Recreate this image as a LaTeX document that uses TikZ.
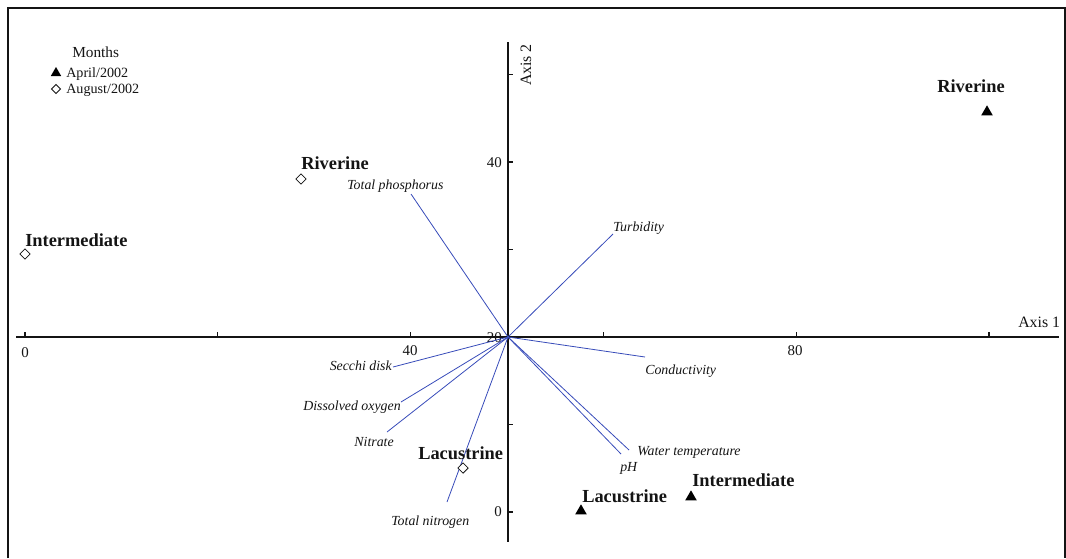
\documentclass[tikz,border=0pt]{standalone}
\usepackage{fontspec}
\setmainfont{Liberation Serif}
\usepackage{tikz}
\usetikzlibrary{shapes.geometric, positioning}
\usepackage{xcolor}
\definecolor{VectorBlue}{RGB}{55,75,185}
\definecolor{InkBlack}{RGB}{20,20,20}
\tikzset{%
  frame_line/.style={%
    draw=InkBlack,%
    line width=1.5pt,%
  },
  axis_line/.style={%
    draw=InkBlack,%
    line width=1.6pt,%
  },
  tick_line/.style={%
    draw=InkBlack,%
    line width=0.9pt,%
  },
  vector/.style={%
    draw=VectorBlue,%
    line width=0.6pt,%
  },
  var_label/.style={%
    inner sep=0pt,%
    font={\fontsize{10.4}{12}\selectfont\itshape},%
    text=InkBlack,%
  },
  site_label/.style={%
    inner sep=0pt,%
    font={\fontsize{13.8}{16}\selectfont\bfseries},%
    text=InkBlack,%
  },
  tick_label/.style={%
    inner sep=0pt,%
    font={\fontsize{11.2}{13}\selectfont},%
    text=InkBlack,%
  },
  legend_text/.style={%
    inner sep=0pt,%
    font={\fontsize{10.6}{12}\selectfont},%
    text=InkBlack,%
  },
  april_mark/.style={%
    regular polygon,%
    regular polygon sides=3,%
    fill=black,%
    inner sep=0pt,%
    minimum size=10pt,%
  },
  august_mark/.style={%
    diamond,%
    draw=InkBlack,%
    line width=0.6pt,%
    fill=white,%
    inner sep=0pt,%
    minimum size=8pt,%
  },
}
\begin{document}
\begin{tikzpicture}[x=0.75pt, y=-0.75pt]
    \useasboundingbox (0,0) rectangle (1066,558);

    % frame, open at the bottom
    \draw [frame_line] (8,558) -- (8,8) -- (1065,8) -- (1065,558);

    % axes
    \coordinate (O) at (508,337);
    \coordinate (ax1_start) at (16,337);
    \coordinate (ax1_end) at (1059,337);
    \coordinate (ax2_top) at (508,42);
    \coordinate (ax2_bot) at (508,542);
    \draw [axis_line] (ax1_start) -- (ax1_end);
    \draw [axis_line] (ax2_top) -- (ax2_bot);
    \foreach \v in {0,20,...,100}
      \draw [tick_line] (25+9.64*\v,337) -- ++(0,-5);
    \foreach \v in {0,10,...,50}
      \draw [tick_line] (508,512-8.75*\v) -- ++(5,0);

    \node [tick_label, anchor=base] (x0) at (25,357) {0};
    \node [tick_label, anchor=base] (x40) at (410,355) {40};
    \node [tick_label, anchor=base] (x80) at (795,355) {80};
    \node [tick_label, anchor=base east] (y20) at (502,342) {20};
    \node [tick_label, anchor=base east] (y40) at (502,167) {40};
    \node [tick_label, anchor=base east] (y0) at (502,516) {0};
    \node [tick_label, anchor=base west, font={\fontsize{11.9}{13}\selectfont}]
      (axis1) at (1018,327) {Axis 1};
    \node [tick_label, rotate=90, font={\fontsize{11.9}{13}\selectfont}]
      (axis2) at (526,65) {Axis 2};

    % environmental vectors
    \coordinate (tp_end) at (411,194);
    \coordinate (turb_end) at (613,234);
    \coordinate (cond_end) at (645,357);
    \coordinate (wt_end) at (629,450);
    \coordinate (ph_end) at (621,454);
    \coordinate (secchi_end) at (393,367);
    \coordinate (do_end) at (401,402);
    \coordinate (nitrate_end) at (387,432);
    \coordinate (tn_end) at (447,502);
    \foreach \e in {tp_end, turb_end, cond_end, wt_end, ph_end,
                    secchi_end, do_end, nitrate_end, tn_end}
      \draw [vector] (O) -- (\e);

    \node [var_label, anchor=base west] (tp) at (347,189) {Total phosphorus};
    \node [var_label, anchor=base west] (turb) at (613,231) {Turbidity};
    \node [var_label, anchor=base west] (cond) at (645,374) {Conductivity};
    \node [var_label, anchor=base west] (wt) at (637,455) {Water temperature};
    \node [var_label, anchor=base west] (ph) at (620,471) {pH};
    \node [var_label, anchor=base east] (secchi) at (392,370) {Secchi disk};
    \node [var_label, anchor=base east] (do) at (401,410) {Dissolved oxygen};
    \node [var_label, anchor=base east] (nitrate) at (394,446) {Nitrate};
    \node [var_label, anchor=base west] (tn) at (391,525) {Total nitrogen};

    % sites, August/2002
    \node [august_mark] (riv_aug) at (301,179) {};
    \node [august_mark] (int_aug) at (25,254) {};
    \node [august_mark] (lac_aug) at (463,468) {};
    \node [site_label, anchor=base west] (riv_aug_lbl) at (301,169) {Riverine};
    \node [site_label, anchor=base west] (int_aug_lbl) at (25,246) {Intermediate};
    \node [site_label, anchor=base west] (lac_aug_lbl) at (418,459) {Lacustrine};

    % sites, April/2002
    \node [april_mark] (riv_apr) at (987,112) {};
    \node [april_mark] (lac_apr) at (581,511) {};
    \node [april_mark] (int_apr) at (691,497) {};
    \node [site_label, anchor=base west] (riv_apr_lbl) at (937,92) {Riverine};
    \node [site_label, anchor=base west] (lac_apr_lbl) at (582,502) {Lacustrine};
    \node [site_label, anchor=base west] (int_apr_lbl) at (692,486) {Intermediate};

    % legend
    \node [legend_text, anchor=base west, font={\fontsize{11.5}{13}\selectfont}]
      (months) at (72,57) {Months};
    \node [april_mark, minimum size=9pt] (leg_apr) at (56,73) {};
    \node [august_mark, minimum size=7pt] (leg_aug) at (56,89) {};
    \node [legend_text, anchor=base west] (leg_apr_txt) at (66,77) {April/2002};
    \node [legend_text, anchor=base west] (leg_aug_txt) at (66,93) {August/2002};
  \end{tikzpicture}
\end{document}
